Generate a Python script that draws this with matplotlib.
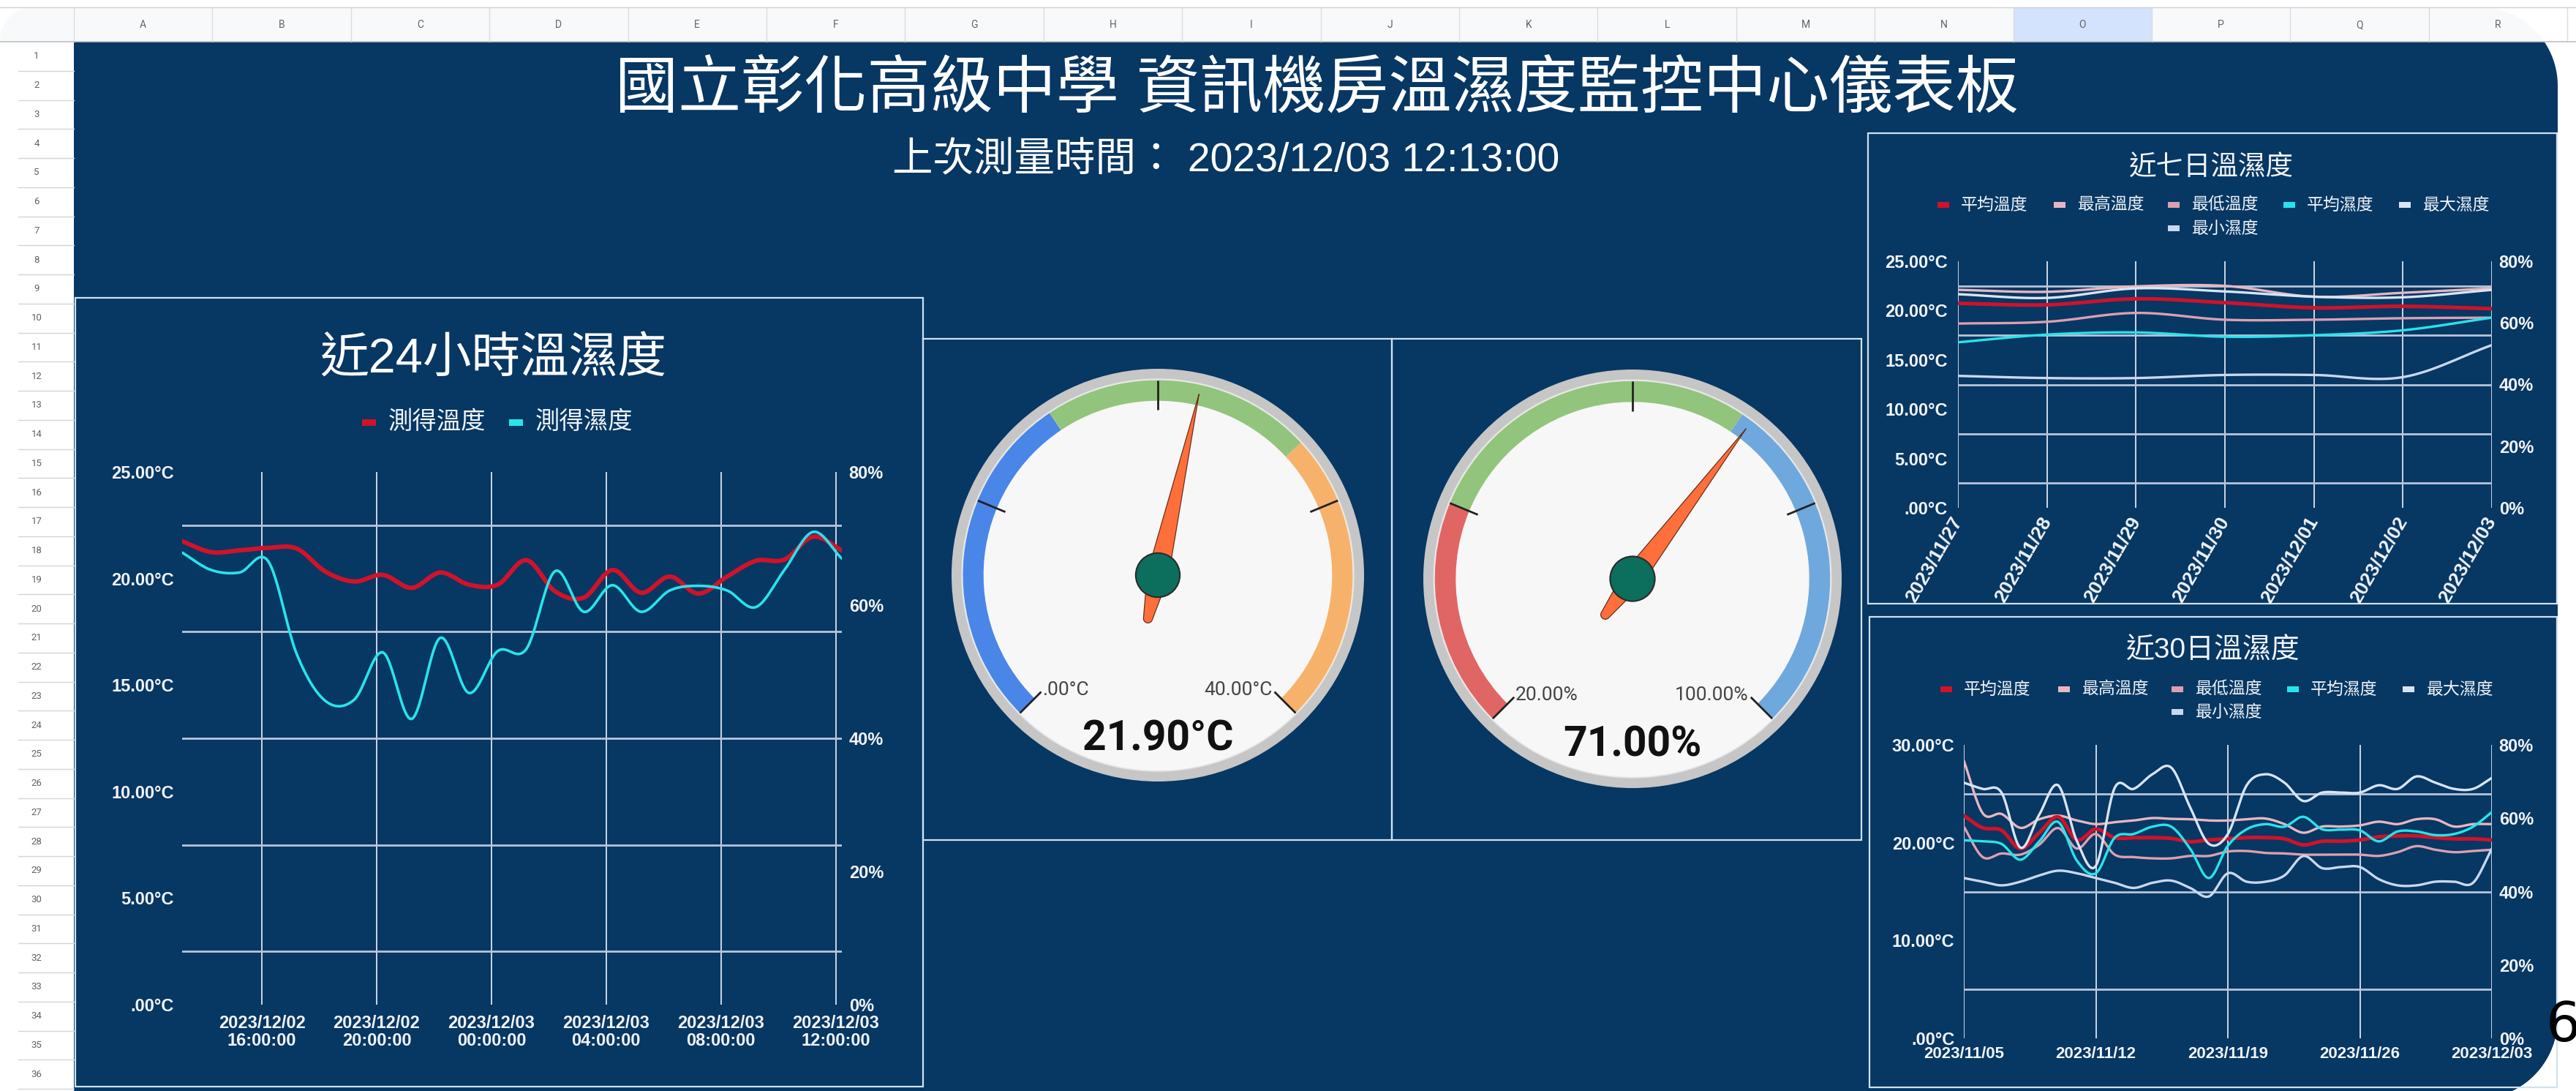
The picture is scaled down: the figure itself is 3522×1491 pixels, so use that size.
import numpy as np
import pandas as pd
import matplotlib
matplotlib.use('Agg')
import matplotlib.pyplot as plt
import matplotlib.dates as mdates
from matplotlib.patches import Rectangle, Circle, Wedge, Polygon

# ---------------- data ----------------
title = '國立彰化高級中學 資訊機房溫濕度監控中心儀表板'
subtitle = '上次測量時間： 2023/12/03 12:13:00'
col_letters = list('ABCDEFGHIJKLMNOPQR')

# last 24 hours, hourly readings
times24 = pd.date_range('2023-12-02 13:13', periods=24, freq='h')
temp24 = [21.75, 21.24, 21.32, 21.44, 21.40, 20.32, 19.86, 20.17, 19.56, 20.28, 19.71, 19.71,
          20.86, 19.40, 19.10, 20.40, 19.33, 20.09, 19.29, 20.09, 20.83, 20.89, 21.96, 21.32]
hum24 = [67.9, 65.3, 64.9, 66.6, 52.6, 45.6, 45.8, 52.9, 42.9, 55.1, 46.8, 53.1,
         53.4, 65.1, 59.0, 63.0, 59.0, 62.2, 62.9, 62.2, 59.7, 65.3, 71.0, 67.0]
ticks24 = pd.to_datetime(['2023-12-02 16:00', '2023-12-02 20:00', '2023-12-03 00:00',
                          '2023-12-03 04:00', '2023-12-03 08:00', '2023-12-03 12:00'])

# gauges
temp_now = 21.90
hum_now = 71.00
temp_range = (0, 40)
hum_range = (20, 100)
temp_bands = [(0, 15), (15, 27), (27, 40)]
hum_bands = [(20, 40), (40, 70), (70, 100)]

# last 7 days
dates7 = pd.date_range('2023-11-27', '2023-12-03')
avg_t7 = [20.73, 20.58, 21.19, 20.80, 20.28, 20.43, 20.19]
max_t7 = [22.10, 21.90, 22.45, 22.50, 21.40, 21.80, 22.25]
min_t7 = [18.68, 18.86, 19.76, 19.07, 19.07, 19.22, 19.28]
avg_h7 = [53.7, 56.2, 56.9, 55.5, 56.0, 57.6, 61.7]
max_h7 = [69.3, 68.1, 71.2, 70.2, 68.5, 68.3, 70.7]
min_h7 = [42.8, 42.1, 42.1, 43.1, 43.1, 42.4, 52.8]

# last 30 days
dates30 = pd.date_range('2023-11-05', '2023-12-03')
avg_t30 = [22.77, 21.52, 21.27, 19.40, 21.02, 22.64, 20.28, 21.40, 20.51, 20.51, 20.51, 20.44, 20.10, 20.28, 20.40,
           20.52, 20.52, 20.40, 19.78, 20.15, 20.15, 20.28, 20.60, 20.70, 20.70, 20.52, 20.40, 20.40, 20.28]
max_t30 = [28.39, 23.02, 22.94, 21.52, 22.40, 22.77, 22.27, 21.90, 22.10, 22.27, 22.52, 22.44, 22.40, 22.27, 22.27,
           22.40, 22.47, 21.90, 21.02, 21.65, 21.65, 21.77, 22.15, 21.90, 22.40, 22.40, 21.65, 21.90, 21.90]
min_t30 = [21.64, 18.53, 18.90, 18.78, 19.80, 21.50, 19.40, 20.89, 18.78, 18.53, 18.40, 18.40, 18.65, 18.65, 19.10,
           19.15, 18.95, 18.90, 18.78, 18.78, 18.78, 18.78, 18.65, 19.03, 19.65, 19.28, 19.03, 19.15, 19.28]
avg_h30 = [54.0, 53.7, 53.0, 48.7, 53.7, 59.0, 48.4, 45.0, 54.7, 55.7, 57.7, 57.7, 51.7, 43.7, 52.5,
           57.0, 58.4, 57.7, 60.4, 57.0, 56.9, 56.7, 53.7, 56.4, 56.4, 55.4, 55.7, 57.7, 61.7]
max_h30 = [69.7, 68.0, 67.0, 52.0, 61.0, 69.0, 53.7, 47.0, 68.3, 68.0, 72.0, 73.8, 63.0, 53.0, 55.7,
           69.0, 72.0, 69.7, 64.7, 67.0, 67.0, 67.0, 69.0, 68.0, 71.4, 69.7, 68.0, 68.0, 71.0]
min_h30 = [43.7, 42.7, 41.7, 42.7, 44.4, 45.7, 45.0, 43.7, 42.4, 41.0, 42.4, 43.0, 41.0, 38.7, 45.0,
           42.7, 42.7, 44.4, 49.7, 46.4, 46.7, 46.7, 43.4, 41.7, 41.7, 42.7, 42.7, 42.4, 51.7]

names6 = ['平均溫度', '最高溫度', '最低溫度', '平均濕度', '最大濕度', '最小濕度']

# ---------------- styles ----------------
W, H = 3523, 1491
NAVY = '#073763'
BORDER = '#cfe2f3'
TXT = '#f1f4f8'
GRID_H = '#b9c5d9'
GRID_V = '#dce4ef'
RED = '#d0122a'
CYAN = '#28e4ea'
colors6 = [RED, '#e8b6c1', '#dc9fb0', CYAN, '#d9e4f3', '#c9d8ee']
CJK = ['Liberation Sans', 'Noto Sans CJK TC', 'DejaVu Sans']
TICKF = ['Liberation Sans', 'DejaVu Sans']
YFS = 17

fig = plt.figure(figsize=(W / 100, H / 100), dpi=100)
bg = fig.add_axes([0, 0, 1, 1])
bg.set_xlim(0, W)
bg.set_ylim(H, 0)
bg.axis('off')


def box(x0, y0, x1, y1):
    return [x0 / W, 1 - y1 / H, (x1 - x0) / W, (y1 - y0) / H]


def smooth(x, y, n=16):
    # catmull-rom curve through the points (drawing only)
    P = np.column_stack([np.asarray(x, float), np.asarray(y, float)])
    P = np.vstack([2 * P[0] - P[1], P, 2 * P[-1] - P[-2]])
    t = np.linspace(0, 1, n, endpoint=False)[:, None, None]
    p0, p1, p2, p3 = P[:-3], P[1:-2], P[2:-1], P[3:]
    seg = 0.5 * (2 * p1 + (p2 - p0) * t + (2 * p0 - 5 * p1 + 4 * p2 - p3) * t ** 2
                 + (3 * p1 - p0 - 3 * p2 + p3) * t ** 3)
    pts = np.vstack([seg.transpose(1, 0, 2).reshape(-1, 2), P[-2]])
    return pts[:, 0], pts[:, 1]


def deg_label(v):
    return f'{v:.2f}°C' if v else '.00°C'


# ---------------- spreadsheet frame ----------------
COL_W = 189.4
ROW_H = 39.75
bg.add_patch(Rectangle((0, 10), W, 47, fc='#f8f9fa', ec='none'))
bg.add_patch(Rectangle((101 + 14 * COL_W, 10), COL_W, 47, fc='#d3e3fd', ec='none'))
for k in range(len(col_letters) + 1):
    x = 101 + k * COL_W
    bg.plot([x, x], [10, 57], color='#dadce0', lw=1)
for k, letter in enumerate(col_letters):
    bg.text(101 + (k + 0.5) * COL_W, 34, letter, fontsize=10, color='#5f6368',
            ha='center', va='center', family='Roboto')
for k in range(36):
    y = 57 + k * ROW_H
    bg.plot([25, 101], [y + ROW_H, y + ROW_H], color='#d5d5d5', lw=1)
    bg.text(50, y + ROW_H / 2, str(k + 1), fontsize=9.5, color='#5f6368',
            ha='center', va='center', family='Roboto')
bg.plot([0, W], [57, 57], color='#c0c0c0', lw=1.2)
bg.plot([0, W], [10, 10], color='#d0d0d0', lw=1)
bg.add_patch(Rectangle((101, 57), 3497 - 101, H - 57, fc=NAVY, ec='none'))

# rounded screenshot corners
th = np.radians(np.linspace(90, 0, 30))
tr = np.column_stack([3390 + 107 * np.cos(th), 117 - 107 * np.sin(th)])
th = np.radians(np.linspace(0, -65, 30))
br = np.column_stack([3387 + 110 * np.cos(th), 1392 - 110 * np.sin(th)])
mask = np.vstack([[3390, 0], tr, br, [W, H + 5], [W, 0]])
bg.add_patch(Polygon(mask, closed=True, fc='white', ec='none'))
th = np.radians(np.linspace(180, 90, 20))
tl = np.column_stack([45 + 45 * np.cos(th), 55 - 45 * np.sin(th)])
bg.add_patch(Polygon(np.vstack([[0, 0], tl, [45, 0]]), closed=True, fc='white', ec='none'))
bg.text(3481, 1403, '6', fontsize=54, color='black', ha='left', va='center', family='DejaVu Sans')

# titles
bg.text(1800, 124, title, fontsize=62, color='white', ha='center', va='center', family=CJK)
bg.text(1676, 220, subtitle, fontsize=40, color='white', ha='center', va='center', family=CJK)

# panel borders
for x0, y0, x1, y1 in [(103, 407, 1262, 1485), (1262, 463, 1903, 1148), (1903, 463, 2545, 1148),
                       (2554, 182, 3496, 825), (2556, 843, 3496, 1486)]:
    bg.add_patch(Rectangle((x0, y0), x1 - x0, y1 - y0, fill=False, ec=BORDER, lw=1.6))


def legend(names, cols, xs, ys, fs, mw, mh, gap):
    for n, c, x, y in zip(names, cols, xs, ys):
        bg.add_patch(Rectangle((x - mw / 2, y - mh / 2), mw, mh, fc=c, ec='none'))
        bg.text(x + mw / 2 + gap, y, n, fontsize=fs, color=TXT, ha='left', va='center', family=CJK)


def chart(px, xs, t_series, h_series, t_cols, h_cols, t_lws, h_lws, tmax, t_ticks, t_minor,
          xticks, xlabels, xfs=16, xpad=10, xrot=0, ypad=8):
    ax = fig.add_axes(box(*px))
    ax.set_facecolor('none')
    x = mdates.date2num(xs.to_pydatetime())
    ax.set_xlim(x[0], x[-1])
    ax.set_ylim(0, tmax)
    ax.set_yticks(t_ticks)
    ax.set_yticklabels([deg_label(v) for v in t_ticks])
    ax.set_yticks(t_minor, minor=True)
    ax.set_xticks(mdates.date2num(xticks.to_pydatetime()))
    if xrot:
        ax.set_xticklabels(xlabels, rotation=xrot, ha='right', va='center', rotation_mode='anchor')
    else:
        ax.set_xticklabels(xlabels, linespacing=1.05)
    ax.grid(axis='y', which='minor', color=GRID_H, lw=2.0)
    ax.grid(axis='x', which='major', color=GRID_V, lw=1.3)
    ax.set_axisbelow(True)
    ax.tick_params(which='both', length=0)
    ax.tick_params(axis='y', pad=ypad, labelcolor=TXT, labelsize=YFS)
    ax.tick_params(axis='x', pad=xpad, labelcolor=TXT, labelsize=xfs)
    for lab in ax.get_xticklabels() + ax.get_yticklabels():
        lab.set_fontweight('bold')
        lab.set_family(TICKF)
    for s in ax.spines.values():
        s.set_visible(False)
    for ys, c, lw in zip(t_series, t_cols, t_lws):
        sx, sy = smooth(x, ys)
        ax.plot(sx, sy, color=c, lw=lw, solid_capstyle='round', zorder=3)
    ax2 = ax.twinx()
    ax2.set_ylim(0, 80)
    ax2.set_yticks([0, 20, 40, 60, 80])
    ax2.set_yticklabels([f'{v}%' for v in [0, 20, 40, 60, 80]])
    ax2.tick_params(length=0, pad=7, labelcolor=TXT, labelsize=YFS)
    for lab in ax2.get_yticklabels():
        lab.set_fontweight('bold')
        lab.set_family(TICKF)
    for s in ax2.spines.values():
        s.set_visible(False)
    for ys, c, lw in zip(h_series, h_cols, h_lws):
        sx, sy = smooth(x, ys)
        ax2.plot(sx, sy, color=c, lw=lw, solid_capstyle='round', zorder=3)
    return ax


# ---------------- 24 hour chart ----------------
bg.text(674, 492, '近24小時溫濕度', fontsize=48, color='white', ha='center', va='center', family=CJK)
legend(['測得溫度', '測得濕度'], [RED, CYAN], [505, 706], [577, 577], 24, 19, 9, 16)
chart((249, 645, 1151, 1373), times24, [temp24], [hum24], [RED], [CYAN], [4.4], [2.6],
      25, [0, 5, 10, 15, 20, 25], [2.5, 7.5, 12.5, 17.5, 22.5],
      ticks24, [t.strftime('%Y/%m/%d\n%H:%M:%S') for t in ticks24], xfs=17, xpad=10)

# ---------------- gauges ----------------
BAND_T = ['#4a86e8', '#93c47d', '#f6b26b']
BAND_H = ['#e06666', '#93c47d', '#6fa8dc']


def gauge(cx, cy, R, value, rng, bands, bcols, lo_lab, hi_lab, val_lab):
    ax = fig.add_axes(box(cx - R, cy - R, cx + R, cy + R))
    ax.set_xlim(-1, 1)
    ax.set_ylim(-1, 1)
    ax.set_aspect('equal')
    ax.axis('off')
    vmin, vmax = rng

    def ang(v):
        return 225 - (v - vmin) / (vmax - vmin) * 270

    ax.add_patch(Circle((0, 0), 1.0, fc='#c6c6c6', ec='none'))
    ax.add_patch(Circle((0, 0), 0.95, fc='#f7f7f7', ec='#e4e4e4', lw=1.2))
    for (a, b), c in zip(bands, bcols):
        ax.add_patch(Wedge((0, 0), 0.945, ang(b), ang(a), width=0.10, fc=c, ec='none'))
    for v in np.linspace(vmin, vmax, 5):
        t = np.radians(ang(v))
        ax.plot([0.80 * np.cos(t), 0.945 * np.cos(t)], [0.80 * np.sin(t), 0.945 * np.sin(t)],
                color='#222222', lw=2.0, solid_capstyle='butt')
    ax.text(-0.56, -0.555, lo_lab, fontsize=19, color='#444444', ha='left', va='center', family='Roboto')
    ax.text(0.555, -0.555, hi_lab, fontsize=19, color='#444444', ha='right', va='center', family='Roboto')
    ax.text(0, -0.795, val_lab, fontsize=41, color='#111111', ha='center', va='center',
            family='Roboto', fontweight='bold')
    # needle
    u_b = np.linspace(-0.215, 0, 12)
    w_b = 0.022 + 0.030 * (1 + u_b / 0.215)
    u_f = np.linspace(0, 0.90, 30)[1:]
    w_f = 0.052 * (1 - u_f / 0.90)
    u = np.concatenate([u_b, u_f])
    w = np.concatenate([w_b, w_f])
    ct = np.linspace(1.5 * np.pi, 0.5 * np.pi, 12)
    cap = np.column_stack([-0.215 + 0.022 * np.cos(ct), 0.022 * np.sin(ct)])
    loc = np.vstack([np.column_stack([u, w]), np.column_stack([u[::-1], -w[::-1]]), cap])
    a = np.radians(ang(value))
    rot = np.column_stack([loc[:, 0] * np.cos(a) - loc[:, 1] * np.sin(a),
                           loc[:, 0] * np.sin(a) + loc[:, 1] * np.cos(a)])
    ax.add_patch(Polygon(rot, closed=True, fc='#ff6f3c', ec='#6b2e17', lw=0.9, zorder=4))
    ax.add_patch(Circle((0, 0), 0.107, fc='#0c6e5d', ec='#2a2a2a', lw=1.5, zorder=5))


gauge(1583, 786, 282, temp_now, temp_range, temp_bands, BAND_T,
      deg_label(temp_range[0]), deg_label(temp_range[1]), f'{temp_now:.2f}°C')
gauge(2232, 791, 286, hum_now, hum_range, hum_bands, BAND_H,
      f'{hum_range[0]:.2f}%', f'{hum_range[1]:.2f}%', f'{hum_now:.2f}%')

# ---------------- 7 day chart ----------------
bg.text(3023, 229, '近七日溫濕度', fontsize=27, color=TXT, ha='center', va='center', family=CJK)
legend(names6, colors6, [2657, 2816, 2972, 3130, 3288, 2972], [280] * 5 + [312], 16.5, 16, 8, 16)
chart((2677, 357, 3407, 694), dates7, [max_t7, min_t7, avg_t7], [max_h7, min_h7, avg_h7],
      [colors6[1], colors6[2], colors6[0]], [colors6[4], colors6[5], colors6[3]],
      [2.4, 2.4, 3.6], [2.4, 2.4, 2.4],
      25, [0, 5, 10, 15, 20, 25], [2.5, 7.5, 12.5, 17.5, 22.5],
      dates7, [d.strftime('%Y/%m/%d') for d in dates7], xfs=19, xpad=10, xrot=60, ypad=10)

# ---------------- 30 day chart ----------------
bg.text(3026, 890, '近30日溫濕度', fontsize=28, color=TXT, ha='center', va='center', family=CJK)
legend(names6, colors6, [2661, 2822, 2977, 3135, 3293, 2977], [942] * 5 + [973], 16.5, 16, 8, 16)
ticks30 = dates30[::7]
chart((2685, 1018, 3407, 1419), dates30, [max_t30, min_t30, avg_t30], [max_h30, min_h30, avg_h30],
      [colors6[1], colors6[2], colors6[0]], [colors6[4], colors6[5], colors6[3]],
      [2.4, 2.4, 3.6], [2.4, 2.4, 2.4],
      30, [0, 10, 20, 30], [5, 15, 25],
      ticks30, [d.strftime('%Y/%m/%d') for d in ticks30], xfs=16, xpad=8, ypad=9)

fig.savefig('out.png', dpi=100)
